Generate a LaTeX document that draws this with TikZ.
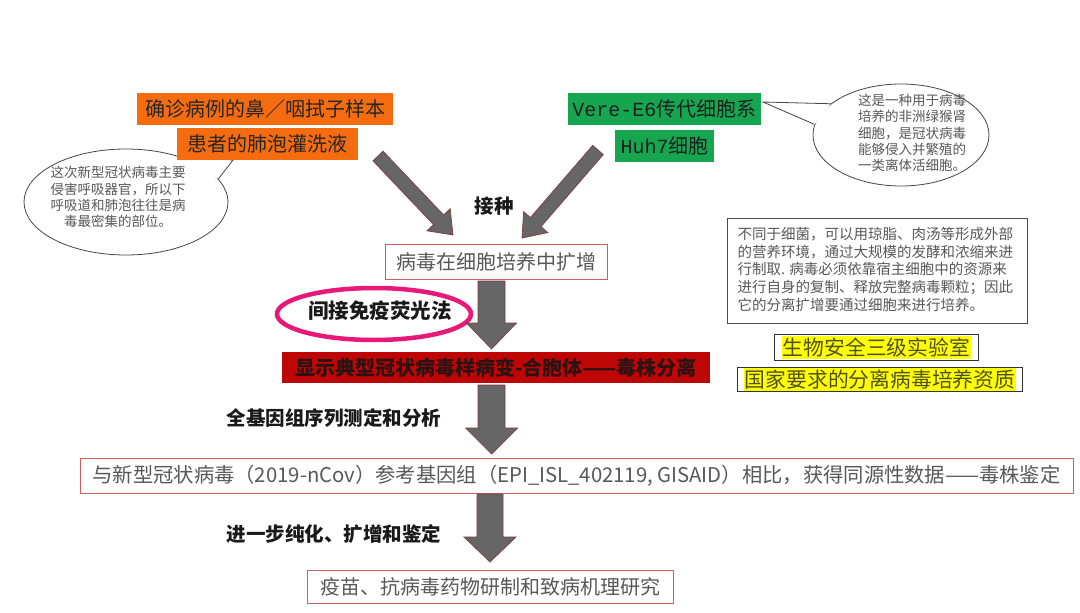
\documentclass[tikz,border=0pt]{standalone}
\usepackage{fontspec}
\setmainfont{Noto Sans CJK SC}
\newfontfamily\latmono{Liberation Mono}
\usetikzlibrary{calc,shapes.geometric,fit}
\definecolor{orng}{RGB}{245,108,16}
\definecolor{grn}{RGB}{22,166,80}
\definecolor{dred}{RGB}{190,6,6}
\definecolor{boxred}{RGB}{205,95,95}
\definecolor{txtgray}{RGB}{88,88,88}
\definecolor{arrgray}{RGB}{102,102,102}
\definecolor{arrbord}{RGB}{125,60,60}
\definecolor{mag}{RGB}{232,24,120}
\definecolor{hiyel}{RGB}{255,255,0}
\definecolor{olivetxt}{RGB}{80,80,40}
\definecolor{bubgray}{RGB}{70,70,70}
\newcommand\blockarrow[5]{%
  \coordinate (bah) at ($(#2)!#5!(#1)$);
  \filldraw[blockarr] ($(#1)!#3!90:(#2)$) -- ($(bah)!#3!-90:(#1)$) -- ($(bah)!#4!-90:(#1)$) -- (#2) -- ($(bah)!#4!90:(#1)$) -- ($(bah)!#3!90:(#1)$) -- ($(#1)!#3!-90:(#2)$) -- cycle;}
\begin{document}
\begin{tikzpicture}[x=1pt,y=-1pt,
  big/.style={font=\fontsize{20}{22}\selectfont},
  orangebox/.style={big, fill=orng, text=black!85, inner xsep=0pt, inner ysep=0pt, minimum height=32pt},
  greenbox/.style={big, fill=grn, text=black!88, inner xsep=0pt, inner ysep=0pt, minimum height=32pt},
  whitebox/.style={big, draw=boxred, line width=1pt, fill=white, text=txtgray, inner xsep=0pt, inner ysep=0pt},
  boldlabel/.style={font=\fontsize{19.5}{22}\selectfont\bfseries, text=black!90},
  bubble/.style={ellipse, draw=bubgray, fill=white, line width=0.8pt, inner sep=0pt},
  bubtext/.style={font=\fontsize{13.5}{16.2}\selectfont, text=txtgray, align=center},
  blockarr/.style={fill=arrgray, draw=arrbord, line width=0.7pt, line join=miter},
  hitext/.style={font=\fontsize{20.8}{22}\selectfont, fill=hiyel, text=olivetxt, inner xsep=1pt, inner ysep=1.5pt},
  hiframe/.style={draw=black!80, line width=0.9pt}
]
\useasboundingbox (0,0) rectangle (1080,613);
\fill[white] (0,0) rectangle (1080,613);

% left speech bubble
\node[bubble, minimum width=204pt, minimum height=106pt] (lb) at (126,202) {};
\coordinate (lbtip) at (233,160);
\fill[white] (lb.42) -- (lbtip) -- (lb.14) -- cycle;
\draw[bubgray, line width=0.8pt] (lb.42) -- (lbtip) -- (lb.14);
\node[bubtext] (lbt) at (118,197) {这次新型冠状病毒主要\\侵害呼吸器官，所以下\\呼吸道和肺泡往往是病\\毒最密集的部位。};

% right speech bubble
\node[bubble, minimum width=176pt, minimum height=102pt] (rb) at (901,135) {};
\coordinate (rbtip) at (763,102);
\fill[white] (rb.156) -- (rbtip) -- (rb.173) -- cycle;
\draw[bubgray, line width=0.8pt] (rb.156) -- (rbtip) -- (rb.173);
\node[bubtext] (rbt) at (912,133) {这是一种用于病毒\\培养的非洲绿猴肾\\细胞，是冠状病毒\\能够侵入并繁殖的\\一类离体活细胞。};

% sample boxes
\node[orangebox, minimum width=256pt] (s1) at (265,109) {确诊病例的鼻／咽拭子样本};
\node[orangebox, minimum width=181pt] (s2) at (267.5,144) {患者的肺泡灌洗液};
\node[greenbox, minimum width=193pt] (g1) at (664.5,109) {{\latmono Vere-E6}传代细胞系};
\node[greenbox, minimum width=99pt] (g2) at (664.5,146) {{\latmono Huh7}细胞};

% culture box
\node[whitebox, minimum width=222pt, minimum height=35pt] (c1) at (496,261.5) {病毒在细胞培养中扩增};
\node[boldlabel] (l1) at (494,206) {接种};

% diagonal arrows
\coordinate (a1s) at (378,156);
\coordinate (a1e) at (453,235);
\coordinate (a2s) at (598,150);
\coordinate (a2e) at (522,238);
\blockarrow{a1s}{a1e}{7pt}{16pt}{21pt}
\blockarrow{a2s}{a2e}{7pt}{16pt}{21pt}

% IF ellipse
\node[ellipse, draw=mag, line width=4.5pt, minimum width=194pt, minimum height=52pt, inner sep=0pt] (ifo) at (374,314) {};
\node[font=\fontsize{20.5}{22}\selectfont\bfseries, text=black!90] (ift) at (380,311) {间接免疫荧光法};

% arrow c1 -> band
\coordinate (a3s) at (491.5,281);
\coordinate (a3e) at (491.5,349);
\blockarrow{a3s}{a3e}{13.5pt}{25pt}{26pt}

% red band
\node[fill=dred, minimum width=428pt, minimum height=31pt, inner sep=0pt, font=\fontsize{20}{22}\selectfont\bfseries, text={rgb,255:red,45;green,18;blue,18}] (band) at (496,367.5) {显示典型冠状病毒样病变-合胞体——毒株分离};

% right notes
\node[draw=black!70, line width=0.9pt, minimum width=300pt, minimum height=105pt, inner xsep=0pt, inner ysep=0pt] (note) at (877,270.5) {};
\node[font=\fontsize{14.5}{17.6}\selectfont, text=txtgray, align=left, anchor=north west] (notet) at (734,224) {不同于细菌，可以用琼脂、肉汤等形成外部\\的营养环境，通过大规模的发酵和浓缩来进\\行制取. 病毒必须依靠宿主细胞中的资源来\\进行自身的复制、释放完整病毒颗粒；因此\\它的分离扩增要通过细胞来进行培养。};

\node[hitext] (y1) at (876.5,347.5) {生物安全三级实验室};
\node[hiframe, fit=(y1), inner xsep=7pt, inner ysep=2pt] (y1f) {};
\node[hitext] (y2) at (880,379.5) {国家要求的分离病毒培养资质};
\node[hiframe, fit=(y2), inner xsep=6pt, inner ysep=0.5pt] (y2f) {};

% arrow band -> identification
\node[boldlabel] (l2) at (334,418) {全基因组序列测定和分析};
\coordinate (a4s) at (491.5,385);
\coordinate (a4e) at (491.5,454);
\blockarrow{a4s}{a4e}{13.5pt}{26pt}{26pt}

\node[whitebox, minimum width=993pt, minimum height=35pt, font=\fontsize{20.3}{22}\selectfont] (idb) at (576.5,475.5) {与新型冠状病毒（2019-nCov）参考基因组（EPI\_ISL\_402119, GISAID）相比，获得同源性数据——毒株鉴定};

% arrow -> final
\node[boldlabel] (l3) at (334,534) {进一步纯化、扩增和鉴定};
\coordinate (a5s) at (490,494);
\coordinate (a5e) at (490,562);
\blockarrow{a5s}{a5e}{13pt}{26pt}{25pt}

\node[whitebox, minimum width=366pt, minimum height=33pt] (fin) at (490,586.5) {疫苗、抗病毒药物研制和致病机理研究};
\end{tikzpicture}
\end{document}
